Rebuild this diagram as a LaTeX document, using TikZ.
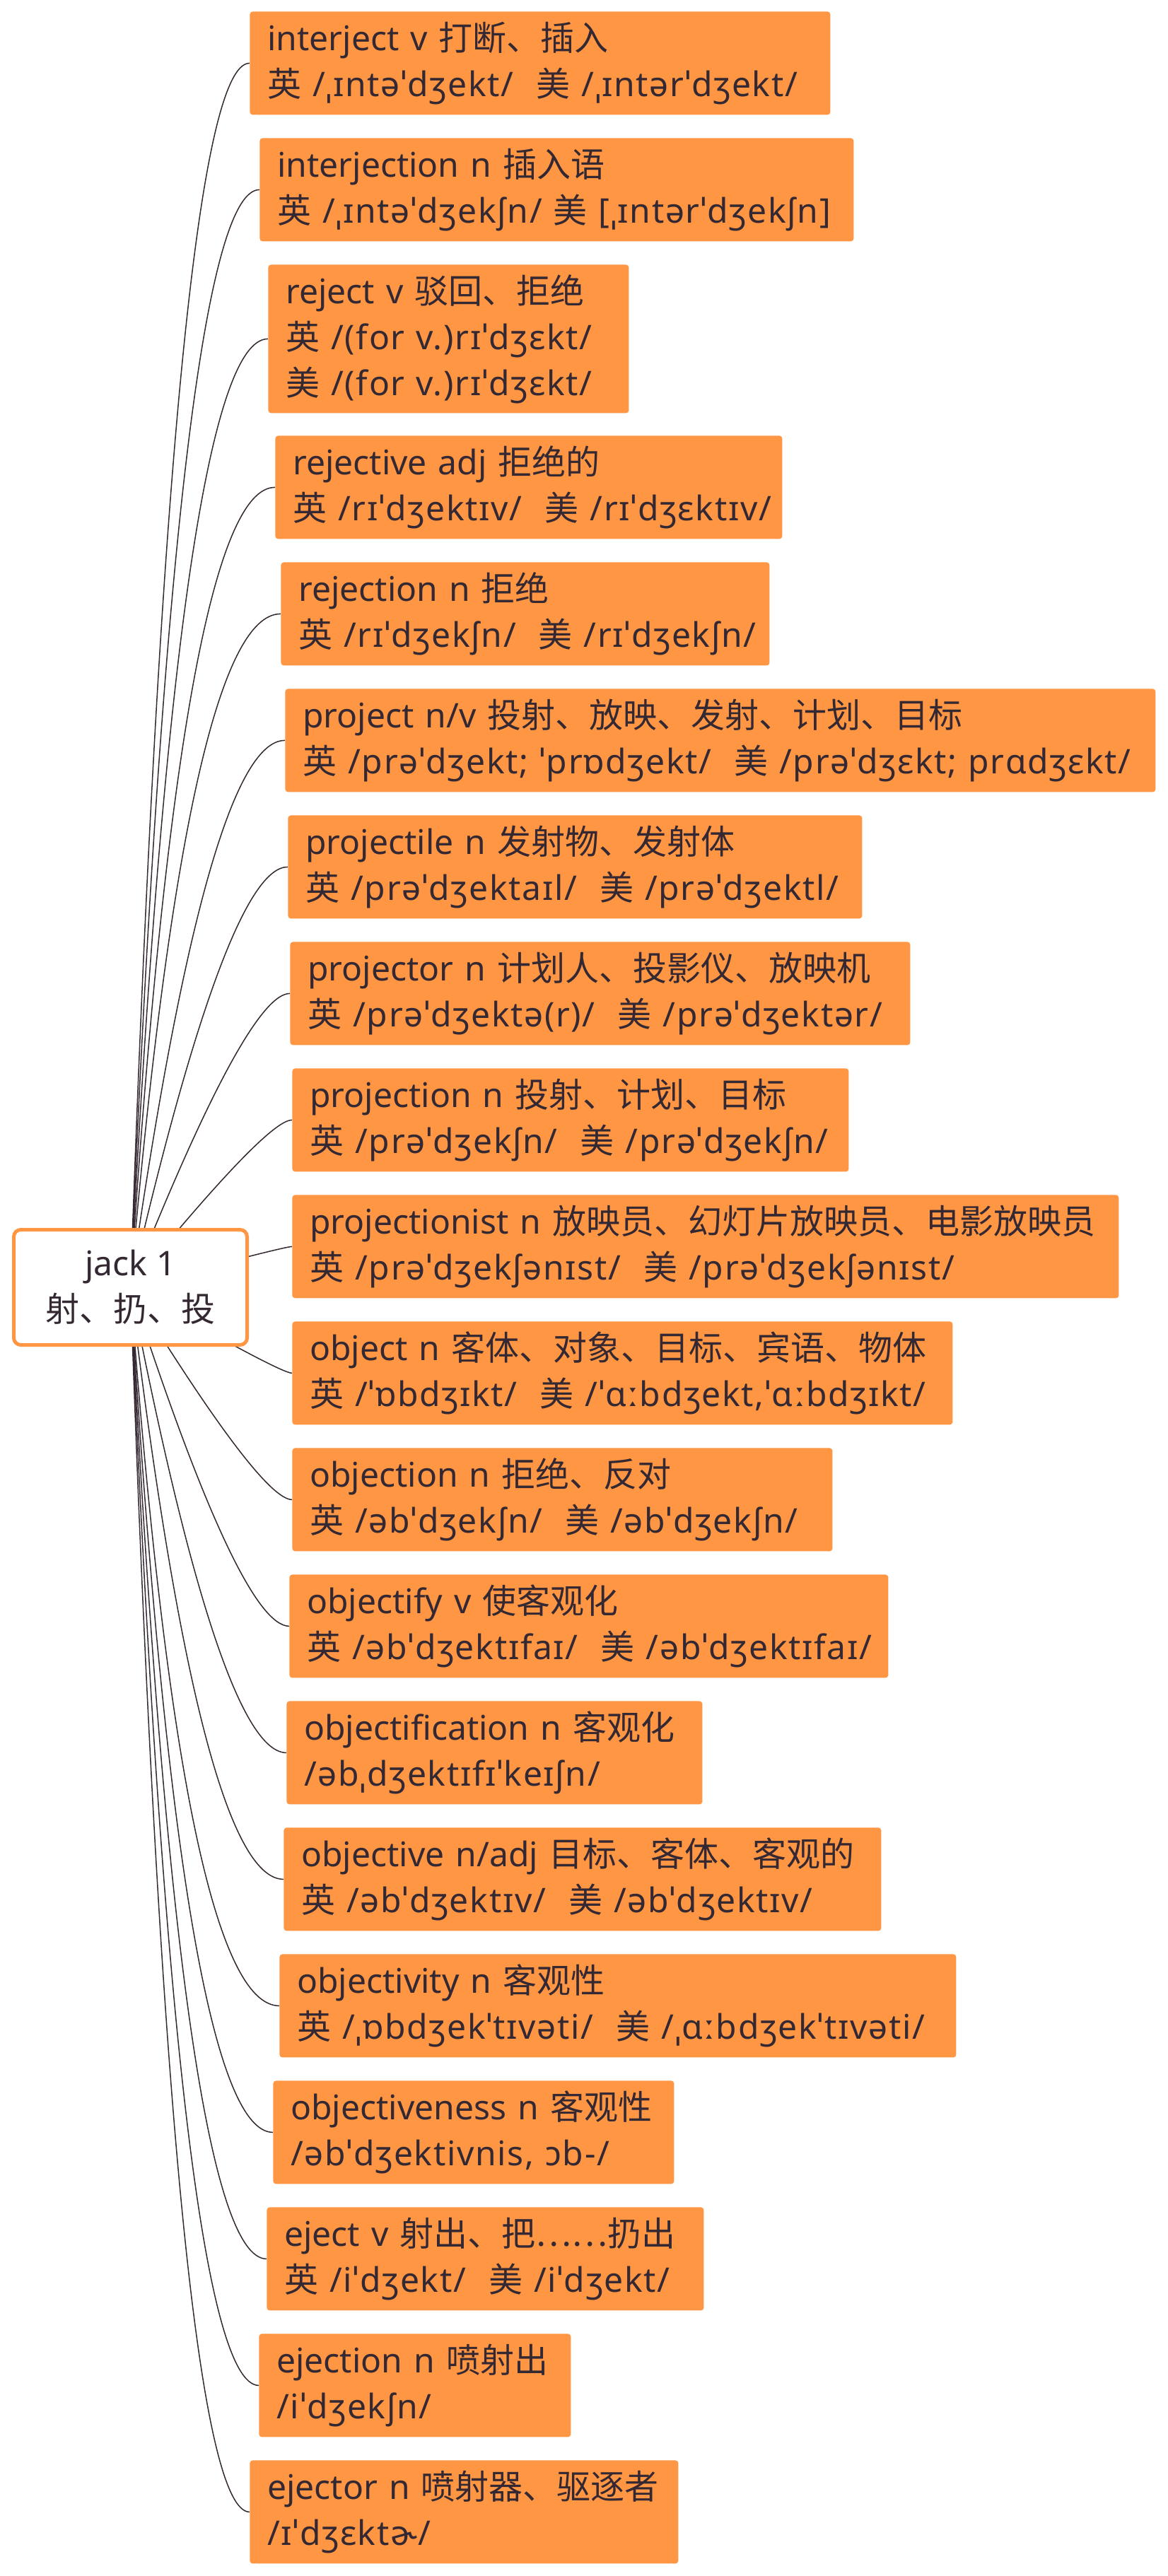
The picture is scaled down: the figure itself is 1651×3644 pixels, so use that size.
\documentclass[tikz,border=0pt]{standalone}
\usepackage{fontspec}
\setmainfont{Noto Sans}
\newfontfamily\cjk{Noto Sans CJK SC}
\newfontfamily\ipa{Noto Sans}[LetterSpace=3.5]
\usetikzlibrary{backgrounds}
\definecolor{leaforange}{RGB}{255,150,68}
\definecolor{inkdark}{RGB}{52,40,50}
\tikzset{
  leaf/.style={rectangle, rounded corners=2pt, fill=leaforange, text=inkdark, anchor=north west, align=left, inner xsep=12.5pt, inner ysep=0pt, minimum height=73pt, font={\fontsize{24pt}{32.5pt}\selectfont\hyphenpenalty10000\relax}},
  hub/.style={rectangle, rounded corners=5pt, draw=leaforange, line width=2.5pt, fill=white, text=inkdark, align=center, inner sep=0pt, minimum width=165pt, minimum height=81.5pt, font=\fontsize{24pt}{32.5pt}\selectfont},
  branch/.style={draw=inkdark, line width=0.75pt}
}

\begin{document}
\begin{tikzpicture}[x=0.5pt,y=0.5pt,yscale=-1,xscale=1]
\useasboundingbox (0,0) rectangle (1651,3644);

%Root
\node [hub] (jack) at (184.5,1821) {jack 1\\{\cjk 射、扔、投}};

% Word Nodes
\node [leaf, text width=385.5pt] (interject) at (353,16) {interject v {\cjk 打断、插入}\\{\ipa{\cjk 英}~/ˌɪntəˈdʒekt/~~{\cjk 美}~/ˌɪntərˈdʒekt/}};
\node [leaf, text width=395pt] (interjection) at (367,195) {interjection n {\cjk 插入语}\\{\ipa{\cjk 英}~/ˌɪntəˈdʒekʃn/~{\cjk 美}~[ˌɪntərˈdʒekʃn]}};
\node [leaf, text width=230pt, minimum height=105pt] (reject) at (379,374) {reject v {\cjk 驳回、拒绝}\\{\ipa{\cjk 英}~/(for~v.)rɪˈdʒɛkt/}\\{\ipa{\cjk 美}~/(for~v.)rɪˈdʒɛkt/}};
\node [leaf, text width=333.5pt] (rejective) at (389,616) {rejective adj {\cjk 拒绝的}\\{\ipa{\cjk 英}~/rɪˈdʒektɪv/~~{\cjk 美}~/rɪˈdʒɛktɪv/}};
\node [leaf, text width=320.5pt] (rejection) at (397,795) {rejection n {\cjk 拒绝}\\{\ipa{\cjk 英}~/rɪˈdʒekʃn/~~{\cjk 美}~/rɪˈdʒekʃn/}};
\node [leaf, text width=590.5pt] (project) at (403,974) {project n/v {\cjk 投射、放映、发射、计划、目标}\\{\ipa{\cjk 英}~/prəˈdʒekt; ˈprɒdʒekt/~~{\cjk 美}~/prəˈdʒɛkt; prɑdʒɛkt/}};
\node [leaf, text width=381pt] (projectile) at (407,1153) {projectile n {\cjk 发射物、发射体}\\{\ipa{\cjk 英}~/prəˈdʒektaɪl/~~{\cjk 美}~/prəˈdʒektl/}};
\node [leaf, text width=413.5pt] (projector) at (410,1332) {projector n {\cjk 计划人、投影仪、放映机}\\{\ipa{\cjk 英}~/prəˈdʒektə(r)/~~{\cjk 美}~/prəˈdʒektər/}};
\node [leaf, text width=368.5pt] (projection) at (413,1511) {projection n {\cjk 投射、计划、目标}\\{\ipa{\cjk 英}~/prəˈdʒekʃn/~~{\cjk 美}~/prəˈdʒekʃn/}};
\node [leaf, text width=559.5pt] (projectionist) at (413,1690) {projectionist n {\cjk 放映员、幻灯片放映员、电影放映员}\\{\ipa{\cjk 英}~/prəˈdʒekʃənɪst/~~{\cjk 美}~/prəˈdʒekʃənɪst/}};
\node [leaf, text width=442pt] (object) at (413,1869) {object n {\cjk 客体、对象、目标、宾语、物体}\\{\ipa{\cjk 英}~/ˈɒbdʒɪkt/~~{\cjk 美}~/ˈɑːbdʒekt,ˈɑːbdʒɪkt/}};
\node [leaf, text width=357pt] (objection) at (413,2048) {objection n {\cjk 拒绝、反对}\\{\ipa{\cjk 英}~/əbˈdʒekʃn/~~{\cjk 美}~/əbˈdʒekʃn/}};
\node [leaf, text width=398.5pt] (objectify) at (409,2227) {objectify v {\cjk 使客观化}\\{\ipa{\cjk 英}~/əbˈdʒektɪfaɪ/~~{\cjk 美}~/əbˈdʒektɪfaɪ/}};
\node [leaf, text width=269pt] (objectification) at (405,2406) {objectification n {\cjk 客观化}\\{\ipa /əbˌdʒektɪfɪˈkeɪʃn/}};
\node [leaf, text width=397.5pt] (objective) at (401,2585) {objective n/adj {\cjk 目标、客体、客观的}\\{\ipa{\cjk 英}~/əbˈdʒektɪv/~~{\cjk 美}~/əbˈdʒektɪv/}};
\node [leaf, text width=453.5pt] (objectivity) at (395,2764) {objectivity n {\cjk 客观性}\\{\ipa{\cjk 英}~/ˌɒbdʒekˈtɪvəti/~~{\cjk 美}~/ˌɑːbdʒekˈtɪvəti/}};
\node [leaf, text width=258.5pt] (objectiveness) at (386,2943) {objectiveness n {\cjk 客观性}\\{\ipa /əbˈdʒektivnis,~ɔb-/}};
\node [leaf, text width=284pt] (eject) at (377,3122) {eject v {\cjk 射出、把……扔出}\\{\ipa{\cjk 英}~/iˈdʒekt/~~{\cjk 美}~/iˈdʒekt/}};
\node [leaf, text width=195.5pt] (ejection) at (366,3301) {ejection n {\cjk 喷射出}\\{\ipa /iˈdʒekʃn/}};
\node [leaf, text width=278pt] (ejector) at (353,3480) {ejector n {\cjk 喷射器、驱逐者}\\{\ipa /ɪˈdʒɛktɚ/}};

%Curve Lines
\begin{scope}[on background layer]
\path [fill=white] (0,0) rectangle (1651,3644);
\draw [branch] (jack.center) .. controls (224.8,666.3) and (281,89) .. (interject.west);
\draw [branch] (jack.center) .. controls (228.2,785.7) and (289,268) .. (interjection.west);
\draw [branch] (jack.center) .. controls (230.8,926.3) and (295.7,479) .. (reject.west);
\draw [branch] (jack.center) .. controls (233.5,1066.3) and (301.7,689) .. (rejective.west);
\draw [branch] (jack.center) .. controls (239.5,1185.7) and (310.3,868) .. (rejection.west);
\draw [branch] (jack.center) .. controls (258.2,1305) and (331,1047) .. (project.west);
\draw [branch] (jack.center) .. controls (276.2,1424.3) and (350.3,1226) .. (projectile.west);
\draw [branch] (jack.center) .. controls (294.8,1543.7) and (370,1405) .. (projector.west);
\draw [branch] (jack.center) .. controls (313.5,1663) and (389.7,1584) .. (projection.west);
\draw [branch] (jack.center) .. controls (330.8,1782.3) and (407,1763) .. (projectionist.west);
\draw [branch] (jack.center) .. controls (324.8,1901.7) and (401,1942) .. (object.west);
\draw [branch] (jack.center) .. controls (307.5,2021) and (383.7,2121) .. (objection.west);
\draw [branch] (jack.center) .. controls (288.2,2140.3) and (363,2300) .. (objectify.west);
\draw [branch] (jack.center) .. controls (269.5,2259.7) and (343,2479) .. (objectification.west);
\draw [branch] (jack.center) .. controls (251.5,2379) and (323.7,2658) .. (objective.west);
\draw [branch] (jack.center) .. controls (234.8,2498.3) and (305,2837) .. (objectivity.west);
\draw [branch] (jack.center) .. controls (232.8,2617.7) and (300,3016) .. (objectiveness.west);
\draw [branch] (jack.center) .. controls (230.8,2737) and (295,3195) .. (eject.west);
\draw [branch] (jack.center) .. controls (228.2,2856.3) and (288.7,3374) .. (ejection.west);
\draw [branch] (jack.center) .. controls (224.8,2975.7) and (281,3553) .. (ejector.west);
\end{scope}

\end{tikzpicture}
\end{document}
